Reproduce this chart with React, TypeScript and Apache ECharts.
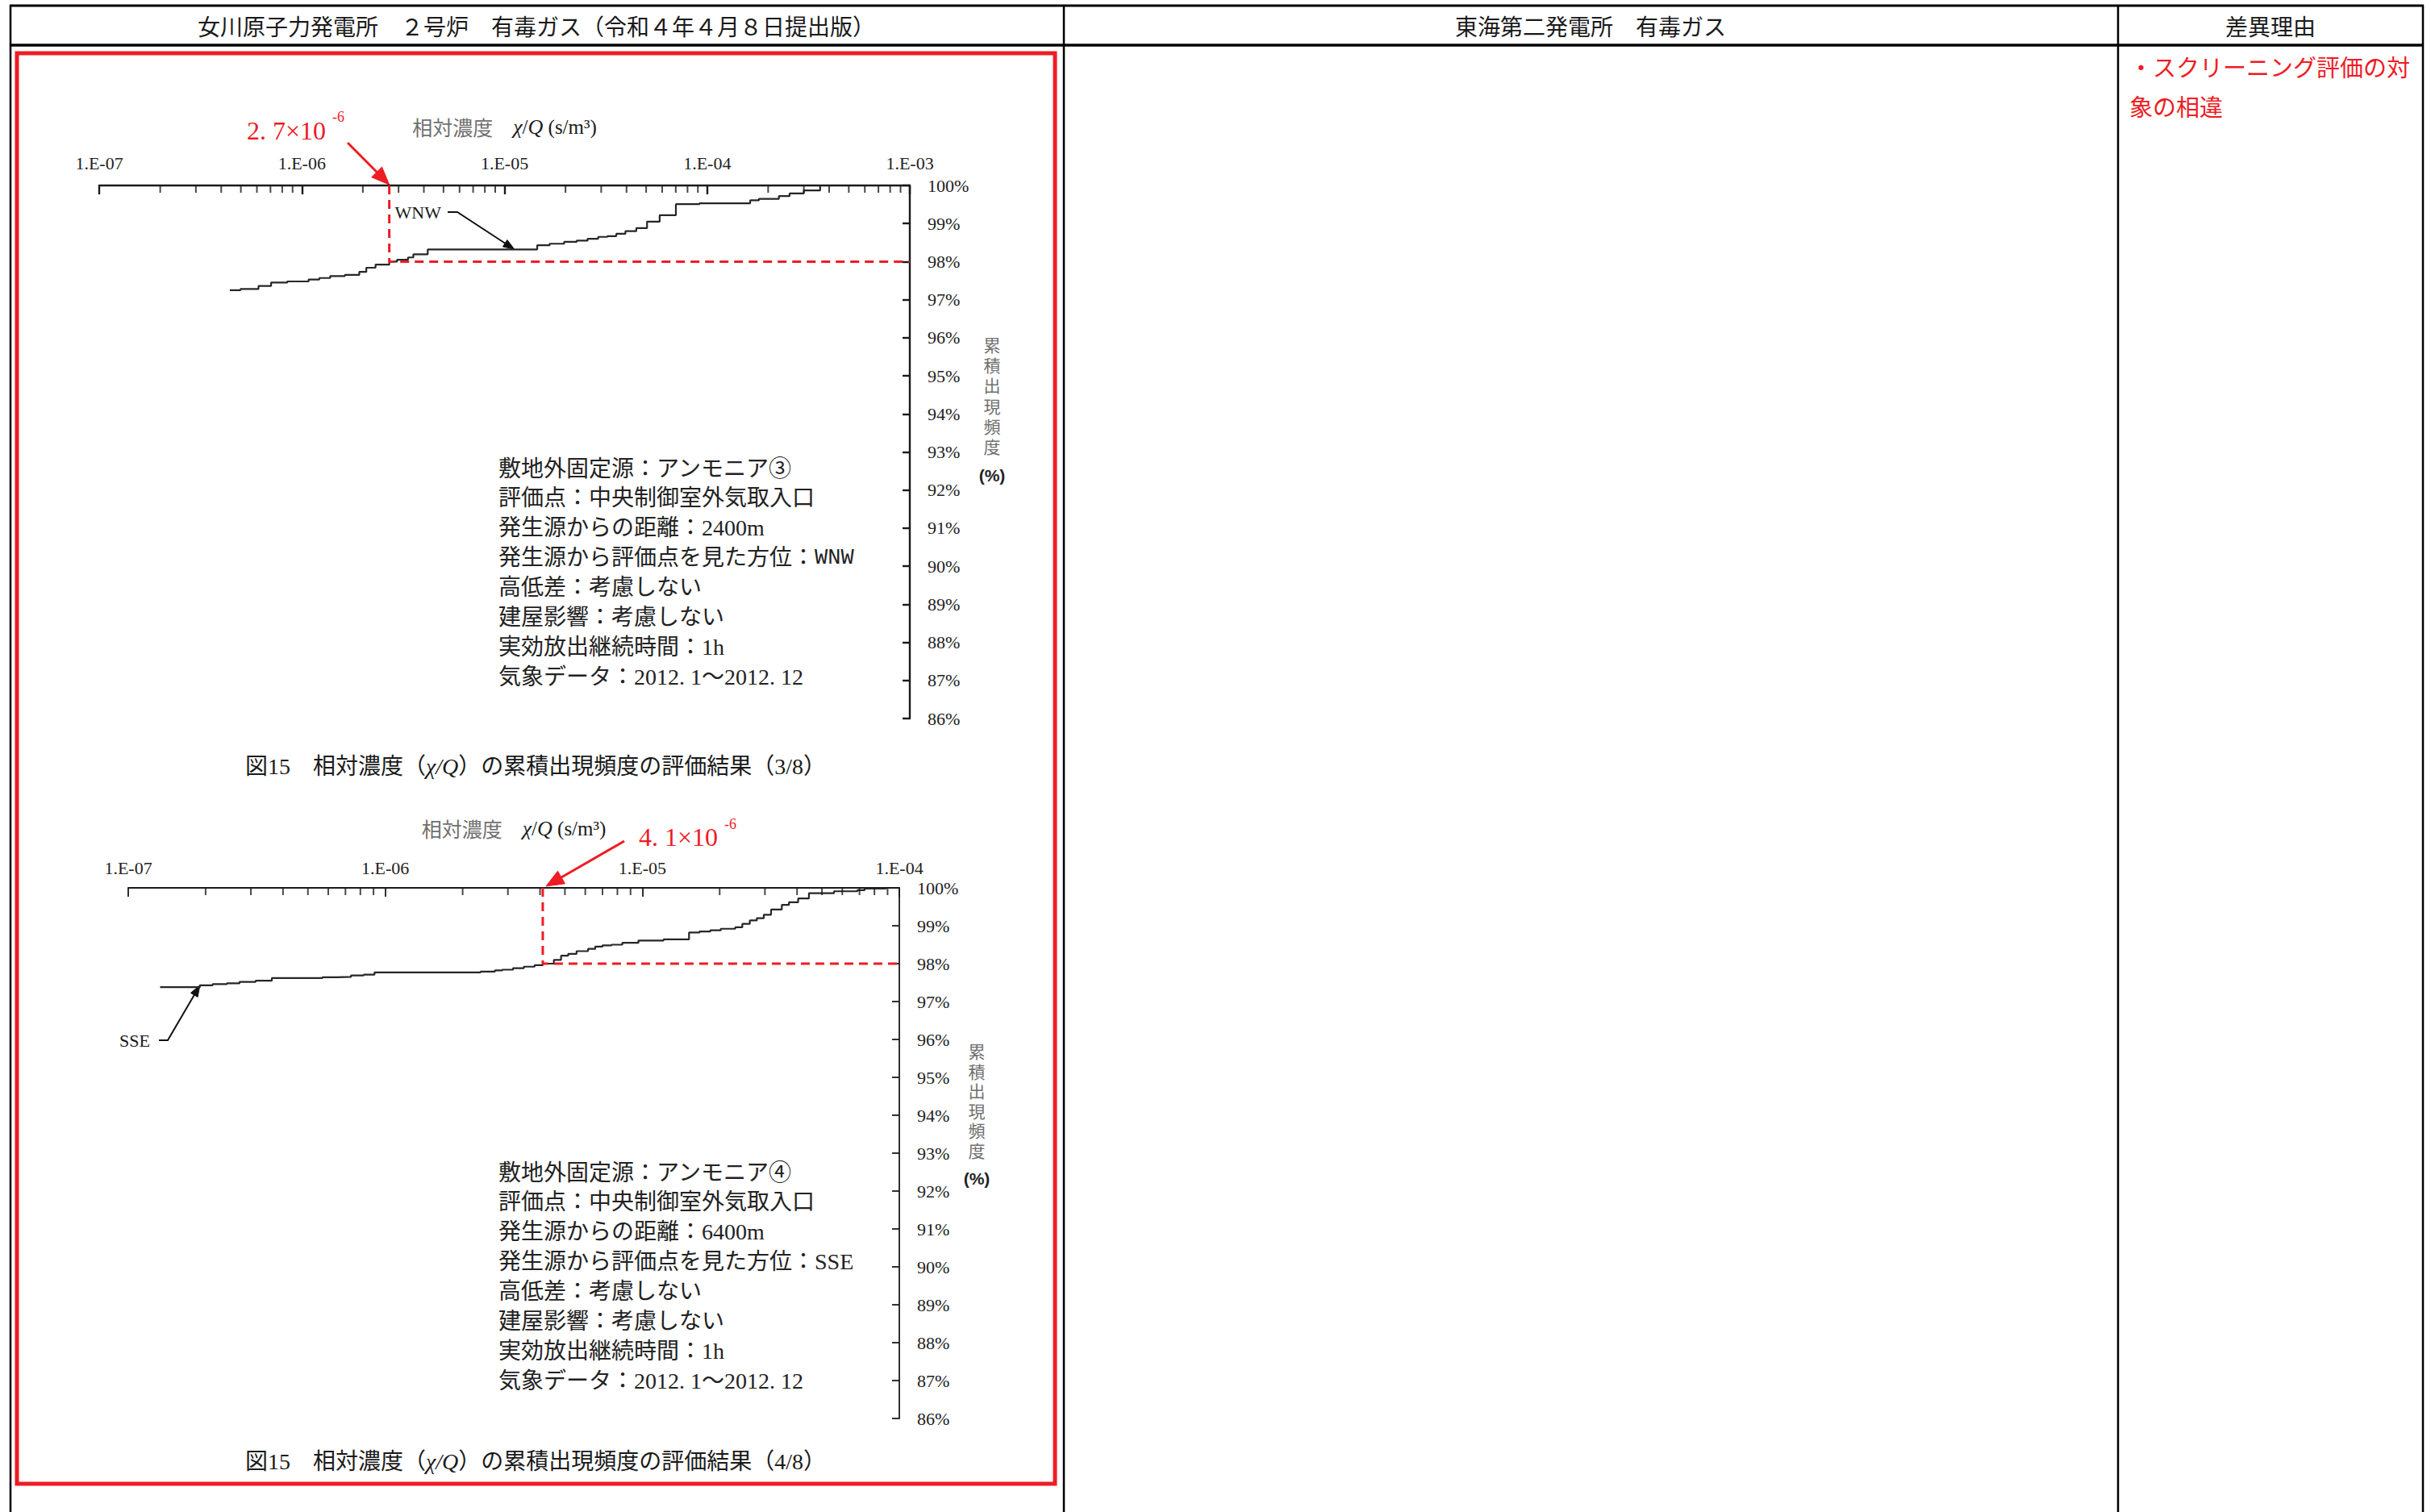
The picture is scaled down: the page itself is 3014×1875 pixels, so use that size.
import React, { useEffect, useRef } from "react";
import * as echarts from "echarts";

// ---------------- data ----------------
const X_TICK_LABELS = ["1.E-07", "1.E-06", "1.E-05", "1.E-04", "1.E-03"];
const MINOR_MANTISSAS = [2, 3, 4, 5, 6, 7, 8, 9];
const Y_MIN = 86;
const Y_MAX = 100;
const TOP_X_MIN = 1e-7;
const TOP_X_MAX = 1e-3;
const BOT_X_MIN = 1e-7;
const BOT_X_MAX = 1e-4;
const PCT_LEVEL = 98;

// WNW (図15 3/8)
const WNW_X = [4.41e-7, 4.98e-7, 6.11e-7, 7.05e-7, 8.47e-7, 1.08e-6, 1.22e-6, 1.38e-6, 1.63e-6, 1.92e-6, 2.08e-6, 2.31e-6, 2.7e-6, 2.95e-6, 3.34e-6, 3.55e-6, 4.18e-6, 1.45e-5, 1.67e-5, 1.97e-5, 2.27e-5, 2.57e-5, 2.9e-5, 3.22e-5, 3.56e-5, 3.95e-5, 4.47e-5, 5.05e-5, 5.83e-5, 7.01e-5, 9.16e-5, 1.63e-4, 1.8e-4, 2.26e-4, 2.55e-4, 3.0e-4, 3.61e-4];
const WNW_PCT = [97.25, 97.28, 97.36, 97.45, 97.48, 97.53, 97.57, 97.62, 97.65, 97.73, 97.84, 97.92, 98.0, 98.05, 98.11, 98.19, 98.32, 98.43, 98.47, 98.52, 98.55, 98.6, 98.65, 98.67, 98.73, 98.8, 98.88, 99.05, 99.22, 99.51, 99.53, 99.61, 99.65, 99.72, 99.79, 99.87, 100];
const WNW_THRESHOLD = 2.7e-6;
const WNW_POINTER = [1.12e-5, 98.32];

// SSE (図15 4/8)
const SSE_X = [1.33e-7, 1.9e-7, 2.13e-7, 2.42e-7, 2.71e-7, 3.13e-7, 3.62e-7, 5.69e-7, 6.47e-7, 7.36e-7, 8.24e-7, 9.08e-7, 2.35e-6, 2.67e-6, 2.85e-6, 3.14e-6, 3.46e-6, 3.81e-6, 4.1e-6, 4.53e-6, 4.83e-6, 5.15e-6, 5.55e-6, 6.15e-6, 6.56e-6, 7.0e-6, 7.59e-6, 8.36e-6, 9.66e-6, 1.21e-5, 1.52e-5, 1.67e-5, 1.84e-5, 2.02e-5, 2.3e-5, 2.45e-5, 2.62e-5, 2.79e-5, 2.97e-5, 3.17e-5, 3.49e-5, 3.72e-5, 4.04e-5, 4.45e-5, 5.57e-5, 6.87e-5, 7.33e-5, 8.87e-5];
const SSE_PCT = [97.38, 97.43, 97.46, 97.48, 97.52, 97.55, 97.62, 97.64, 97.65, 97.69, 97.71, 97.77, 97.79, 97.82, 97.84, 97.88, 97.92, 97.96, 98.0, 98.1, 98.21, 98.26, 98.33, 98.39, 98.45, 98.48, 98.5, 98.55, 98.61, 98.64, 98.82, 98.85, 98.88, 98.92, 98.96, 99.05, 99.14, 99.2, 99.29, 99.43, 99.55, 99.62, 99.72, 99.86, 99.91, 99.94, 99.98, 100];
const SSE_THRESHOLD = 4.1e-6;
const SSE_POINTER = [1.9e-7, 97.43];

// texts
const HEADER_TITLES = [
  "女川原子力発電所　２号炉　有毒ガス（令和４年４月８日提出版）",
  "東海第二発電所　有毒ガス",
  "差異理由",
];
const REASON_LINES = ["・スクリーニング評価の対", "象の相違"];
const NOTES_TOP = [
  "敷地外固定源：アンモニア③",
  "評価点：中央制御室外気取入口",
  "発生源からの距離：2400m",
  "発生源から評価点を見た方位：{l|WNW}",
  "高低差：考慮しない",
  "建屋影響：考慮しない",
  "実効放出継続時間：1h",
  "気象データ：2012. 1～2012. 12",
];
const NOTES_BOTTOM = [
  "敷地外固定源：アンモニア④",
  "評価点：中央制御室外気取入口",
  "発生源からの距離：6400m",
  "発生源から評価点を見た方位：SSE",
  "高低差：考慮しない",
  "建屋影響：考慮しない",
  "実効放出継続時間：1h",
  "気象データ：2012. 1～2012. 12",
];
const CAPTION_SUFFIXES = ["（3/8）", "（4/8）"];
const Y_NAME_CHARS = ["累", "積", "出", "現", "頻", "度"];
const ANNOT_TOP = "2. 7×10";
const ANNOT_BOTTOM = "4. 1×10";
const ANNOT_EXP = "-6";

// ---------------- styles ----------------
const SERIF = '"Liberation Serif", "Noto Sans CJK JP", serif';
const CJK = '"Noto Sans CJK JP", "Liberation Serif", sans-serif';
const SANS = '"Liberation Sans", "Noto Sans", sans-serif';
const MONO = '"Liberation Mono", "DejaVu Sans Mono", monospace';
const RED = "#ee1c24";
const INK = "#1a1a1a";
const GRAY = "#707070";

function minorTicks(e0: number, e1: number) {
  const out: number[][] = [];
  for (let e = e0; e < e1; e++) {
    for (const m of MINOR_MANTISSAS) out.push([Number((m * Math.pow(10, e)).toPrecision(3)), Y_MAX]);
  }
  return out;
}

function xLabel(v: number) {
  const i = Math.round(Math.log10(v)) + 7;
  return X_TICK_LABELS[i] ?? "";
}

const axisNameRich = {
  a: { color: GRAY, fontSize: 25, fontFamily: CJK },
  b: { color: INK, fontSize: 26, fontFamily: SERIF, fontStyle: "italic" },
  c: { color: INK, fontSize: 25, fontFamily: SERIF },
};
const AXIS_NAME = "{a|相対濃度}{a|　}{b|χ}{c|/}{b|Q}{c| (s/m³)}";

function makeXAxis(grid: number, max: number, lw: number) {
  return {
    type: "log",
    logBase: 10,
    gridIndex: grid,
    min: grid === 0 ? TOP_X_MIN : BOT_X_MIN,
    max,
    position: "top",
    axisLine: { show: true, onZero: false, lineStyle: { color: INK, width: lw } },
    axisTick: { show: true, inside: true, length: 11, lineStyle: { color: INK, width: lw } },
    axisLabel: { show: true, margin: grid === 0 ? 17 : 14, fontSize: 22, fontFamily: SERIF, color: "#222", formatter: xLabel },
    splitLine: { show: false },
    minorTick: { show: false },
    name: AXIS_NAME,
    nameLocation: "middle",
    nameGap: grid === 0 ? 60 : 61,
    nameTextStyle: { rich: axisNameRich },
  };
}

function makeYAxis(grid: number, lw: number) {
  return {
    type: "value",
    gridIndex: grid,
    min: Y_MIN,
    max: Y_MAX,
    interval: 1,
    position: "right",
    axisLine: { show: true, onZero: false, lineStyle: { color: INK, width: lw } },
    axisTick: { show: true, inside: true, length: 9, lineStyle: { color: INK, width: lw } },
    axisLabel: { show: true, margin: 22, fontSize: 22, fontFamily: SERIF, color: "#222", formatter: "{value}%" },
    splitLine: { show: false },
  };
}

function stepSeries(grid: number, xs: number[], ys: number[]) {
  return {
    type: "line",
    xAxisIndex: grid,
    yAxisIndex: grid,
    step: "end",
    data: xs.map((x, i) => [x, ys[i]]),
    symbol: "none",
    showSymbol: false,
    lineStyle: { color: "#262626", width: 2.2 },
    silent: true,
    z: 3,
  };
}

function guideSeries(grid: number, thr: number, xmax: number) {
  return {
    type: "line",
    xAxisIndex: grid,
    yAxisIndex: grid,
    data: [
      [thr, Y_MAX],
      [thr, PCT_LEVEL],
      [xmax, PCT_LEVEL],
    ],
    symbol: "none",
    showSymbol: false,
    lineStyle: { color: RED, width: 3, type: [11, 7] },
    silent: true,
    z: 4,
  };
}

function minorSeries(grid: number, e0: number, e1: number) {
  return {
    type: "scatter",
    xAxisIndex: grid,
    yAxisIndex: grid,
    data: minorTicks(e0, e1),
    symbol: "rect",
    symbolSize: [2, 9],
    symbolOffset: [0, 4.5],
    itemStyle: { color: INK },
    silent: true,
    clip: false,
    z: 5,
  };
}

function buildOption() {
  return {
    animation: false,
    backgroundColor: "#ffffff",
    grid: [
      { left: 123, top: 230, width: 1005, height: 661 },
      { left: 159, top: 1101, width: 956, height: 658 },
    ],
    xAxis: [makeXAxis(0, TOP_X_MAX, 2.4), makeXAxis(1, BOT_X_MAX, 1.8)],
    yAxis: [makeYAxis(0, 2.4), makeYAxis(1, 1.8)],
    series: [
      stepSeries(0, WNW_X, WNW_PCT),
      guideSeries(0, WNW_THRESHOLD, TOP_X_MAX),
      minorSeries(0, -7, -3),
      stepSeries(1, SSE_X, SSE_PCT),
      guideSeries(1, SSE_THRESHOLD, BOT_X_MAX),
      minorSeries(1, -7, -4),
    ],
  };
}

// ---------------- graphics ----------------
function txt(x: number, y: number, text: string, o: any = {}) {
  return {
    type: "text",
    x,
    y,
    silent: true,
    style: {
      text,
      fill: o.fill ?? INK,
      fontSize: o.fontSize ?? 27,
      fontFamily: o.fontFamily ?? SERIF,
      fontStyle: o.fontStyle ?? "normal",
      fontWeight: o.fontWeight ?? "normal",
      align: o.align ?? "left",
      verticalAlign: o.verticalAlign ?? "middle",
      textAlign: o.align ?? "left",
      textVerticalAlign: o.verticalAlign ?? "middle",
      lineHeight: o.lineHeight,
      rich: o.rich,
    },
  };
}

function line(x1: number, y1: number, x2: number, y2: number, w: number, color = "#000") {
  return { type: "line", silent: true, shape: { x1, y1, x2, y2 }, style: { stroke: color, lineWidth: w } };
}

function arrow(pts: number[][], color: string, lw: number, headL: number, headW: number) {
  const n = pts.length;
  const tip = pts[n - 1];
  const prev = pts[n - 2];
  const dx = tip[0] - prev[0];
  const dy = tip[1] - prev[1];
  const len = Math.hypot(dx, dy) || 1;
  const ux = dx / len;
  const uy = dy / len;
  const bx = tip[0] - ux * headL;
  const by = tip[1] - uy * headL;
  const px = -uy;
  const py = ux;
  const linePts = pts.slice(0, n - 1).concat([[bx + ux * 2, by + uy * 2]]);
  return [
    { type: "polyline", silent: true, shape: { points: linePts }, style: { stroke: color, lineWidth: lw, fill: null } },
    {
      type: "polygon",
      silent: true,
      shape: { points: [tip, [bx + px * headW, by + py * headW], [bx - px * headW, by - py * headW]] },
      style: { fill: color, stroke: color, lineWidth: 1 },
    },
  ];
}

function caption(x: number, y: number, suffix: string) {
  return txt(x, y, `{n|図15　相対濃度（}{i|χ/Q}{n|）の累積出現頻度の評価結果${suffix}}`, {
    rich: {
      n: { fill: INK, fontSize: 28, fontFamily: SERIF },
      i: { fill: INK, fontSize: 28, fontFamily: SERIF, fontStyle: "italic" },
    },
  });
}

function notes(x: number, y0: number, step: number, lines: string[]) {
  return lines.map((s, i) =>
    txt(x, y0 + i * step, s, {
      fontSize: 28,
      fill: "#222",
      rich: { l: { fill: "#222", fontSize: 27, fontFamily: MONO } },
    })
  );
}

function yName(x: number, y0: number, step: number, pctY: number) {
  const out: any[] = Y_NAME_CHARS.map((c, i) =>
    txt(x, y0 + i * step, c, { fill: GRAY, fontSize: 21, fontFamily: CJK, align: "center" })
  );
  out.push(txt(x, pctY, "(%)", { fontSize: 21, fontFamily: SANS, fontWeight: "bold", align: "center", fill: "#222" }));
  return out;
}

function buildGraphics(toPx: (g: number, p: number[]) => number[]) {
  const els: any[] = [];
  // table
  els.push(line(12, 7, 3005, 7, 3));
  els.push(line(12, 56, 3005, 56, 3.5));
  for (const x of [13, 1319, 2626, 3004]) els.push(line(x, 6, x, 1875, 2.5));
  els.push(txt(665, 34, HEADER_TITLES[0], { align: "center", fontSize: 28 }));
  els.push(txt(1972, 34, HEADER_TITLES[1], { align: "center", fontSize: 28 }));
  els.push(txt(2815, 34, HEADER_TITLES[2], { align: "center", fontSize: 28 }));
  els.push(txt(2640, 85, REASON_LINES[0], { fill: RED, fontSize: 29 }));
  els.push(txt(2640, 134, REASON_LINES[1], { fill: RED, fontSize: 29 }));
  // red frame
  els.push({
    type: "rect",
    silent: true,
    shape: { x: 21, y: 66, width: 1287, height: 1774 },
    style: { fill: "none", stroke: RED, lineWidth: 5 },
  });

  // top chart annotations
  const topTip = toPx(0, [WNW_THRESHOLD, Y_MAX]);
  els.push(txt(306, 162, ANNOT_TOP, { fill: RED, fontSize: 32 }));
  els.push(txt(412, 145, ANNOT_EXP, { fill: RED, fontSize: 18 }));
  els.push(...arrow([[431, 177], [topTip[0], topTip[1] - 1]], RED, 3, 22, 9));

  const wnwTip = toPx(0, WNW_POINTER);
  els.push(txt(547, 263, "WNW", { align: "right", fontSize: 22 }));
  els.push(...arrow([[555, 263], [567, 263], wnwTip], "#111", 2, 14, 5));

  els.push(...yName(1230, 427, 25.2, 589));
  els.push(...notes(618, 581, 36.9, NOTES_TOP));
  els.push(caption(304, 950, CAPTION_SUFFIXES[0]));

  // bottom chart annotations
  const botTip = toPx(1, [SSE_THRESHOLD, Y_MAX]);
  els.push(txt(792, 1038, ANNOT_BOTTOM, { fill: RED, fontSize: 32 }));
  els.push(txt(898, 1022, ANNOT_EXP, { fill: RED, fontSize: 18 }));
  els.push(...arrow([[774, 1043], [botTip[0] + 4, botTip[1] - 2]], RED, 3, 22, 9));

  const sseTip = toPx(1, SSE_POINTER);
  els.push(txt(186, 1290, "SSE", { align: "right", fontSize: 22 }));
  els.push(...arrow([[197, 1290], [208, 1290], sseTip], "#111", 2, 14, 5));

  els.push(...yName(1211, 1303, 24.5, 1461));
  els.push(...notes(618, 1454, 36.9, NOTES_BOTTOM));
  els.push(caption(304, 1812, CAPTION_SUFFIXES[1]));

  return els;
}

export default function App() {
  const ref = useRef<HTMLDivElement>(null);
  useEffect(() => {
    if (!ref.current) return;
    const chart = echarts.init(ref.current, null, { renderer: "svg" });
    chart.setOption(buildOption() as any);
    const toPx = (g: number, p: number[]) => chart.convertToPixel({ gridIndex: g } as any, p) as unknown as number[];
    chart.setOption({ graphic: { elements: buildGraphics(toPx) } } as any);
    return () => chart.dispose();
  }, []);
  return (
    <div
      ref={ref}
      style={{ position: "absolute", left: 0, top: 0, width: 3014, height: 1875, background: "#fff" }}
    />
  );
}
